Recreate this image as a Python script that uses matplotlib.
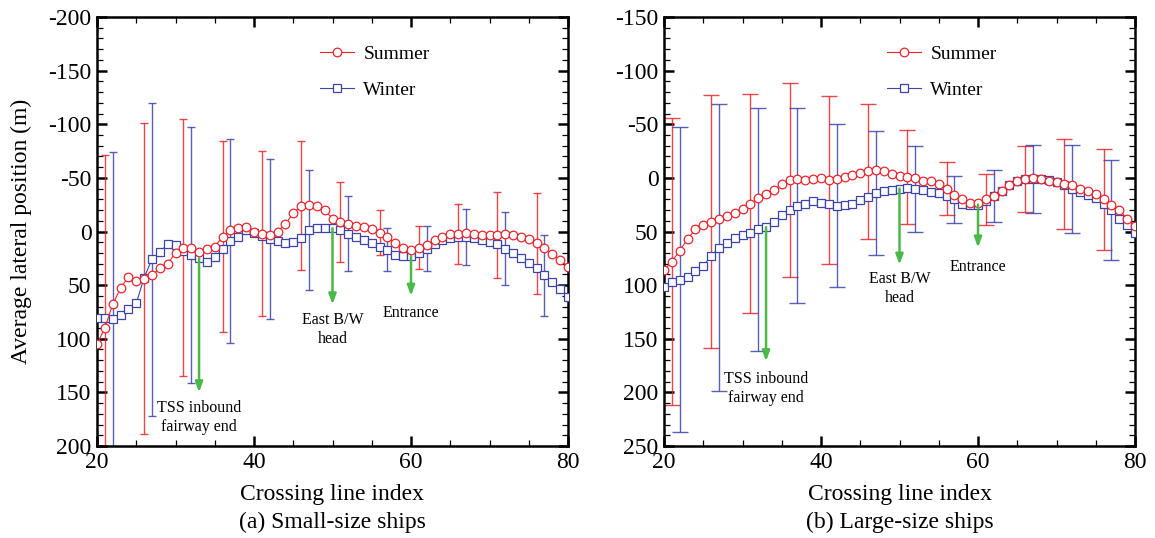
import numpy as np
import matplotlib
matplotlib.use("Agg")
import matplotlib.pyplot as plt
from matplotlib.ticker import MultipleLocator

plt.rcParams['font.family'] = ['Liberation Serif', 'DejaVu Serif']
plt.rcParams['axes.unicode_minus'] = False

idx = list(range(20, 81))

summer_a = [105, 90, 68, 53, 42, 46, 44, 41, 34, 30, 20, 15, 15, 19, 16, 14, 5, -1, -3, -4,
            0, 2, 3, 0, -7, -17, -24, -25, -24, -20, -12, -9, -7, -5, -4, -2, 1, 5, 11, 15,
            17, 15, 13, 8, 5, 2, 2, 1, 2, 3, 3, 3, 2, 3, 5, 7, 11, 15, 21, 27, 33]
winter_a = [81, 81, 82, 78, 72, 67, 43, 26, 19, 12, 13, 18, 22, 25, 28, 24, 16, 9, 5, -1,
            1, 4, 7, 9, 11, 10, 6, -1, -3, -3, -3, -1, 2, 5, 8, 11, 14, 17, 22, 23,
            23, 20, 16, 12, 8, 6, 5, 5, 6, 8, 10, 12, 16, 20, 25, 29, 34, 41, 47, 54, 61]
summer_b = [86, 78, 68, 57, 48, 44, 41, 38, 36, 33, 29, 24, 19, 15, 11, 6, 2, 1, 2, 1,
            0, 2, 1, -1, -3, -5, -6, -7, -6, -4, -2, -1, 0, 3, 3, 6, 10, 16, 20, 23,
            23, 20, 17, 12, 7, 3, 1, 0, 1, 3, 4, 6, 7, 10, 12, 15, 20, 25, 30, 38, 45]
winter_b = [102, 97, 95, 92, 87, 82, 73, 65, 61, 56, 53, 51, 48, 46, 41, 35, 30, 26, 24, 22,
            23, 24, 26, 25, 24, 21, 18, 14, 12, 11, 10, 9, 10, 11, 13, 14, 17, 20, 24, 25,
            25, 22, 17, 12, 7, 3, 1, 1, 1, 2, 4, 7, 10, 13, 16, 19, 24, 30, 38, 44, 51]

err_idx_summer = [21, 26, 31, 36, 41, 46, 51, 56, 61, 66, 71, 76]
err_idx_winter = [22, 27, 32, 37, 42, 47, 52, 57, 62, 67, 72, 77]
err_summer_a = [161, 145, 120, 89, 77, 60, 37, 21, 20, 28, 40, 47]
err_winter_a = [156, 146, 119, 95, 75, 56, 35, 20, 21, 26, 34, 38]
err_summer_b = [134, 118, 102, 90, 78, 63, 44, 25, 24, 31, 42, 47]
err_winter_b = [142, 134, 113, 91, 76, 58, 40, 22, 24, 32, 41, 47]

arrow_idx = [33, 50, 60]
arrow_labels = ["TSS inbound\nfairway end", "East B/W\nhead", "Entrance"]
arrow_tip_a = [150, 68, 60]
arrow_tip_b = [171, 81, 65]
label_y_a = [173, 91, 76]
label_y_b = [196, 103, 83]

captions = ["(a) Small-size ships", "(b) Large-size ships"]

RED = '#e8252c'
BLUE = '#3c44a8'
GREEN = '#4cb848'

fig = plt.figure(figsize=(11.55, 5.38), dpi=100)
W, H = 1155, 538
ax_a = fig.add_axes([97 / W, 1 - 446 / H, 471 / W, 429 / H])
ax_b = fig.add_axes([664 / W, 1 - 446 / H, 471 / W, 429 / H])

panels = [
    (ax_a, summer_a, winter_a, err_summer_a, err_winter_a, (200, -200), arrow_tip_a, label_y_a, 3),
    (ax_b, summer_b, winter_b, err_summer_b, err_winter_b, (250, -150), arrow_tip_b, label_y_b, 6),
]

for k, (ax, s, w, es, ew, ylim, tips, ly, cap) in enumerate(panels):
    s_map = dict(zip(idx, s))
    w_map = dict(zip(idx, w))
    ax.errorbar(err_idx_summer, [s_map[i] for i in err_idx_summer], yerr=es, fmt='none',
                ecolor=RED, elinewidth=1.0, capsize=cap, capthick=1.0, alpha=0.85, zorder=2)
    ax.errorbar(err_idx_winter, [w_map[i] for i in err_idx_winter], yerr=ew, fmt='none',
                ecolor=BLUE, elinewidth=1.0, capsize=cap, capthick=1.0, alpha=0.85, zorder=2)
    ax.plot(idx, s, color=RED, lw=0.8, marker='o', ms=6.2, mfc='white', mec=RED, mew=0.9,
            label='Summer', zorder=4)
    ax.plot(idx, w, color=BLUE, lw=0.8, marker='s', ms=5.6, mfc='white', mec=BLUE, mew=0.9,
            label='Winter', zorder=3)
    for xi, tip, lab, yl in zip(arrow_idx, tips, arrow_labels, ly):
        ax.annotate('', xy=(xi, tip), xytext=(xi, w_map[xi]),
                    arrowprops=dict(arrowstyle='-|>,head_length=0.6,head_width=0.22',
                                    color=GREEN, lw=1.8, shrinkA=0, shrinkB=0), zorder=5)
        ax.text(xi, yl, lab, ha='center', va='center', fontsize=11.5, linespacing=1.25)
    ax.set_xlim(20, 80)
    ax.set_ylim(*ylim)
    ax.xaxis.set_major_locator(MultipleLocator(20))
    ax.xaxis.set_minor_locator(MultipleLocator(5))
    ax.yaxis.set_major_locator(MultipleLocator(50))
    ax.yaxis.set_minor_locator(MultipleLocator(10))
    ax.tick_params(which='both', direction='in', top=True, right=True, labelsize=17)
    ax.tick_params(which='major', length=7, width=1.8, pad=4)
    ax.tick_params(which='minor', length=4, width=0.9)
    for sp in ax.spines.values():
        sp.set_linewidth(1.8)
    ax.set_xlabel('Crossing line index', fontsize=17, labelpad=8)
    ax.text(0.5, -0.177, captions[k], transform=ax.transAxes, ha='center', va='center',
            fontsize=17)
    ax.legend(loc='upper left', bbox_to_anchor=(0.458, 0.953), frameon=False, fontsize=14,
              handlelength=1.7, handletextpad=0.5, labelspacing=0.95, borderaxespad=0)

ax_a.set_ylabel('Average lateral position (m)', fontsize=17, labelpad=12)

fig.savefig('out.png', dpi=100)
